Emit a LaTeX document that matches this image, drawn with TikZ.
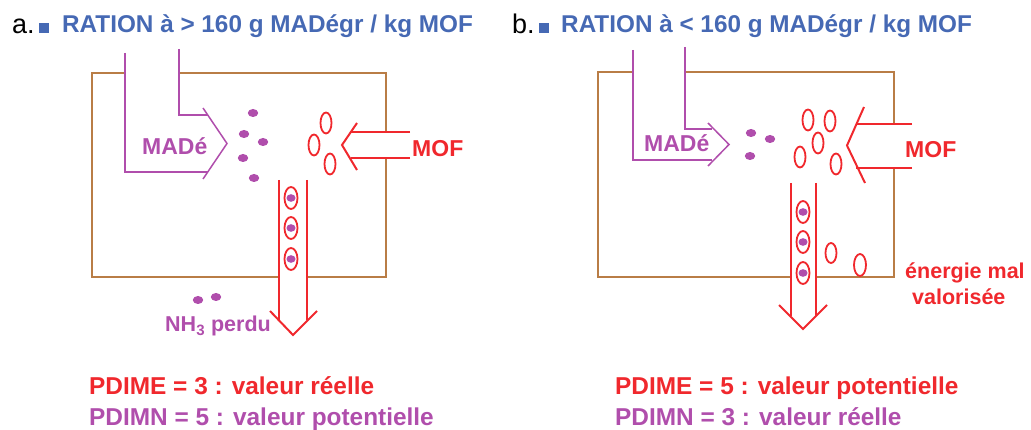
\documentclass[tikz,border=0pt]{standalone}
\usepackage{fontspec}
\setmainfont{Liberation Sans}
\definecolor{titleblue}{RGB}{70,105,180}
\definecolor{purpc}{RGB}{176,78,172}
\definecolor{redc}{RGB}{240,40,45}
\definecolor{brownc}{RGB}{185,125,70}
\begin{document}
\begin{tikzpicture}[x=1pt,y=-1pt,
  boxl/.style={draw=brownc, line width=2pt},
  purp/.style={draw=purpc, line width=2.6pt},
  purpthin/.style={draw=purpc, line width=1.5pt},
  redl/.style={draw=redc, line width=2pt},
  oval/.style={draw=redc, line width=1.8pt},
  dotc/.style={fill=purpc},
  txt/.style={inner sep=0pt, anchor=base west},
  lettre/.style={txt, text=black, font={\fontsize{27}{30}\selectfont}},
  titre/.style={txt, text=titleblue, font={\fontsize{24.3}{28}\selectfont\bfseries}},
  lbl/.style={txt, font={\fontsize{23}{26}\selectfont\bfseries}},
  pdi/.style={txt, font={\fontsize{24.4}{28}\selectfont\bfseries}},
  small/.style={txt, font={\fontsize{21.5}{24}\selectfont\bfseries}}
]
\useasboundingbox (0,0) rectangle (1031,430);

% ================= PANEL a =================
\node[lettre] (la) at (12,34) {a.};
\fill[titleblue] (38.5,23) rectangle (48.5,33);
\node[titre] (ta) at (62,33) {RATION à > 160 g MADégr / kg MOF};

% box
\draw[boxl] (125,73) -- (92,73) -- (92,277) -- (279,277);
\draw[boxl] (307,277) -- (386,277) -- (386,158);
\draw[boxl] (386,132) -- (386,73) -- (179,73);

% MADé arrow
\draw[purp] (125,53) -- (125,172) -- (208,172);
\draw[purp] (179,49) -- (179,115) -- (208,115);
\draw[purpthin] (203,108) -- (227,143.5) -- (203,179);
\node[lbl, text=purpc] (madea) at (142,155) {MADé};

% purple dots
\fill[dotc] (253,113) ellipse [x radius=5.2, y radius=4];
\fill[dotc] (244,134) ellipse [x radius=5.2, y radius=4];
\fill[dotc] (263,142) ellipse [x radius=5.2, y radius=4];
\fill[dotc] (243,158) ellipse [x radius=5.2, y radius=4];
\fill[dotc] (254,178) ellipse [x radius=5.2, y radius=4];

% red ovals
\draw[oval] (326,123) ellipse [x radius=5.5, y radius=10.5];
\draw[oval] (314,145) ellipse [x radius=5.5, y radius=10.5];
\draw[oval] (330,164) ellipse [x radius=5.5, y radius=10.5];

% MOF arrow
\draw[redl] (410,132) -- (351,132);
\draw[redl] (410,158) -- (351,158);
\draw[redl] (357,123) -- (342,145) -- (357,170);
\node[lbl, text=redc] (mofa) at (412,157) {MOF};

% down arrow
\draw[redl] (279,180) -- (279,320);
\draw[redl] (307,180) -- (307,320);
\draw[redl] (270,311) -- (293,335) -- (317,311);
\foreach \yy in {198,228,259}{
  \draw[oval] (291,\yy) ellipse [x radius=6.5, y radius=11];
  \fill[dotc] (291,\yy) ellipse [x radius=4.5, y radius=3.8];
}
% NH3 lost
\fill[dotc] (198,300) ellipse [x radius=5.2, y radius=4];
\fill[dotc] (216,297) ellipse [x radius=5.2, y radius=4];
\node[small, text=purpc] (nh3) at (165,332) {NH\textsubscript{3} perdu};

\node[pdi, text=redc] (pdimea) at (89,394) {PDIME = 3 : valeur réelle};
\node[pdi, text=purpc] (pdimna) at (89,425) {PDIMN = 5 : valeur potentielle};

% ================= PANEL b =================
\node[lettre] (lb) at (512,34) {b.};
\fill[titleblue] (538.5,23) rectangle (548.5,33);
\node[titre] (tb) at (561,33) {RATION à < 160 g MADégr / kg MOF};

% box
\draw[boxl] (633,72) -- (598,72) -- (598,277) -- (791,277);
\draw[boxl] (816,277) -- (894,277) -- (894,168);
\draw[boxl] (894,124) -- (894,72) -- (685,72);

% MADé arrow
\draw[purp] (633,50) -- (633,160) -- (712,160);
\draw[purp] (685,47) -- (685,129) -- (712,129);
\draw[purpthin] (708,123) -- (729,144.5) -- (708,166);
\node[lbl, text=purpc] (madeb) at (644,152) {MADé};

% purple dots
\fill[dotc] (751,133) ellipse [x radius=5.2, y radius=4];
\fill[dotc] (770,139) ellipse [x radius=5.2, y radius=4];
\fill[dotc] (750,156) ellipse [x radius=5.2, y radius=4];

% red ovals
\draw[oval] (808,120) ellipse [x radius=5.5, y radius=10.5];
\draw[oval] (830,121) ellipse [x radius=5.5, y radius=10.5];
\draw[oval] (818,143) ellipse [x radius=5.5, y radius=10.5];
\draw[oval] (800,157) ellipse [x radius=5.5, y radius=10.5];
\draw[oval] (836,164) ellipse [x radius=5.5, y radius=10.5];

% MOF arrow
\draw[redl] (912,124) -- (856,124);
\draw[redl] (912,168) -- (856,168);
\draw[redl] (864,107) -- (847,145.5) -- (865,183);
\node[lbl, text=redc] (mofb) at (905,158) {MOF};

% down arrow
\draw[redl] (791,183) -- (791,316);
\draw[redl] (816,183) -- (816,316);
\draw[redl] (779,305) -- (803,329) -- (827,305);
\foreach \yy in {212,242,273}{
  \draw[oval] (803,\yy) ellipse [x radius=6.5, y radius=11];
  \fill[dotc] (803,\yy) ellipse [x radius=4.5, y radius=3.8];
}
\draw[oval] (831,253) ellipse [x radius=5.5, y radius=10];
\draw[oval] (860,265) ellipse [x radius=6, y radius=11];
\node[small, text=redc] (ener) at (905,279) {énergie mal};
\node[small, text=redc] (valo) at (912,305) {valorisée};

\node[pdi, text=redc] (pdimeb) at (615,394) {PDIME = 5 : valeur potentielle};
\node[pdi, text=purpc] (pdimnb) at (615,425) {PDIMN = 3 : valeur réelle};
\end{tikzpicture}
\end{document}
